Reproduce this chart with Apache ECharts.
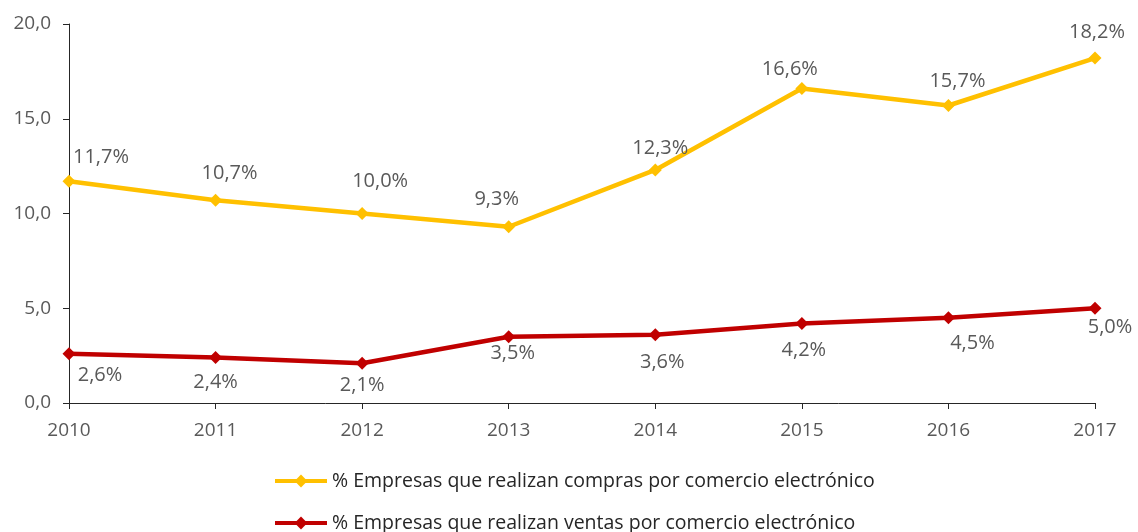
<!DOCTYPE html>
<html>
<head>
<meta charset="utf-8">
<script src="https://cdn.jsdelivr.net/npm/echarts@6/dist/echarts.min.js"></script>
<style>
  html, body { margin: 0; padding: 0; background: #fff; }
  #chart { width: 1138px; height: 532px; }
</style>
</head>
<body>
<div id="chart"></div>
<script>
// años y porcentajes
const years = ['2010', '2011', '2012', '2013', '2014', '2015', '2016', '2017'];
const compras = [11.7, 10.7, 10.0, 9.3, 12.3, 16.6, 15.7, 18.2];
const ventas = [2.6, 2.4, 2.1, 3.5, 3.6, 4.2, 4.5, 5.0];
const nameCompras = '% Empresas que realizan compras por comercio electrónico';
const nameVentas = '% Empresas que realizan ventas por comercio electrónico';

// desplazamiento de cada etiqueta respecto al punto (estilo, no datos)
const offCompras = [[32, -24], [14, -27], [18, -32], [-12, -27], [5, -22], [-12, -19], [9, -24], [2, -26]];
const offVentas = [[31, 22], [0, 25], [0, 22], [4, 17], [7, 28], [2, 27], [24, 26], [15, 19]];

const FONT = '"Open Sans", sans-serif';
const COLORS = { compras: '#FFC000', ventas: '#C00000', text: '#595959', axis: '#262626' };

const fmt = v => v.toFixed(1).replace('.', ',');

function withLabels(values, offsets) {
    return values.map((v, i) => ({
        value: v,
        label: { offset: offsets[i] }
    }));
}

const legendBase = {
    left: 268,
    itemWidth: 52,
    itemHeight: 16,
    lineStyle: { width: 4 },
    textStyle: { color: '#262626', fontFamily: FONT, fontSize: 19.5 }
};

const labelBase = {
    show: true,
    position: 'inside',
    formatter: p => fmt(p.value) + '%',
    color: COLORS.text,
    fontFamily: FONT,
    fontSize: 20
};

const chart = echarts.init(document.getElementById('chart'), null, { renderer: 'canvas' });

chart.setOption({
    animation: false,
    grid: { left: 69, right: 43, top: 24, bottom: 129 },
    xAxis: {
        type: 'category',
        data: years,
        boundaryGap: false,
        axisLine: { lineStyle: { color: COLORS.axis, width: 1 } },
        axisTick: { show: true, alignWithLabel: true, length: 6, lineStyle: { color: COLORS.axis } },
        axisLabel: { color: COLORS.text, fontFamily: FONT, fontSize: 19, margin: 18 },
        splitLine: { show: false }
    },
    yAxis: {
        type: 'value',
        min: 0,
        max: 20,
        interval: 5,
        axisLine: { show: true, lineStyle: { color: COLORS.axis, width: 1 } },
        axisTick: { show: true, length: 6, lineStyle: { color: COLORS.axis } },
        axisLabel: { color: COLORS.text, fontFamily: FONT, fontSize: 19, margin: 18, formatter: fmt },
        splitLine: { show: false }
    },
    legend: [
        { ...legendBase, top: 466, data: [nameCompras] },
        { ...legendBase, top: 508, data: [nameVentas] }
    ],
    series: [
        {
            name: nameCompras,
            type: 'line',
            data: withLabels(compras, offCompras),
            symbol: 'diamond',
            symbolSize: 13,
            itemStyle: { color: COLORS.compras },
            lineStyle: { width: 4.5, color: COLORS.compras },
            label: labelBase
        },
        {
            name: nameVentas,
            type: 'line',
            data: withLabels(ventas, offVentas),
            symbol: 'diamond',
            symbolSize: 13,
            itemStyle: { color: COLORS.ventas },
            lineStyle: { width: 4.5, color: COLORS.ventas },
            label: labelBase
        }
    ]
});
</script>
</body>
</html>
